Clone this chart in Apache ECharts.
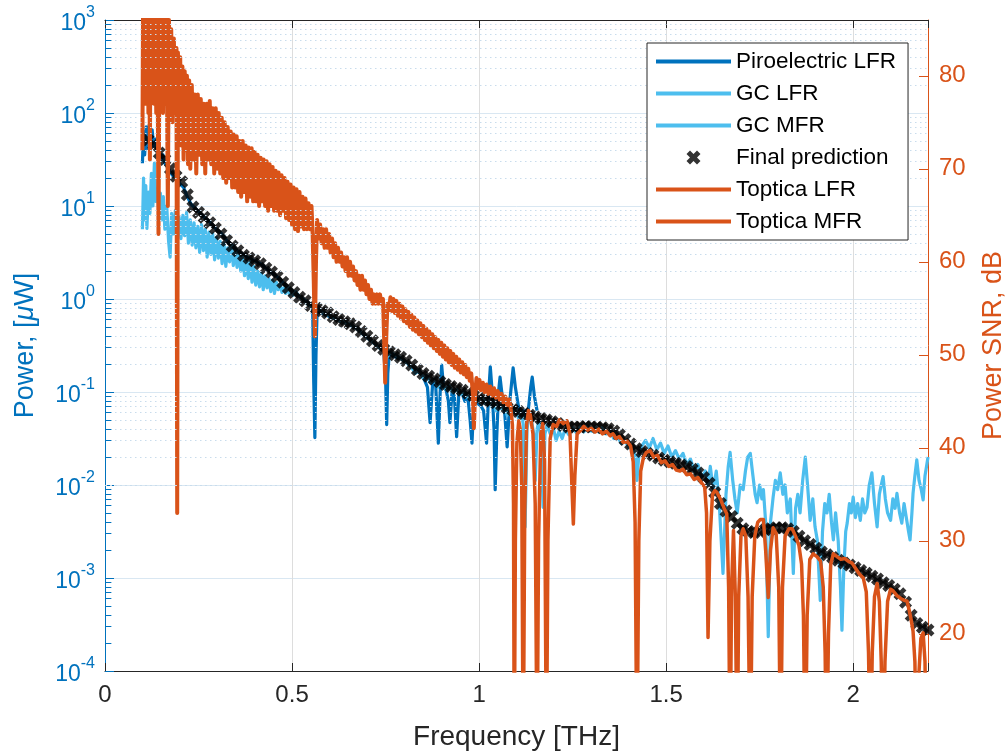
<!DOCTYPE html>
<html><head><meta charset="utf-8">
<script src="https://cdn.jsdelivr.net/npm/echarts@6/dist/echarts.min.js"></script>
<style>html,body{margin:0;padding:0;background:#fff}#c{width:1008px;height:751px}</style>
</head><body><div id="c"></div>
<script>
// ---------- tick labels ----------
const xTickValues = [0, 0.5, 1, 1.5, 2];
const leftDecades = [-4, -3, -2, -1, 0, 1, 2, 3];
const rightTicks = [20, 30, 40, 50, 60, 70, 80];
const seriesNames = ['Piroelectric LFR', 'GC LFR', 'GC MFR', 'Final prediction', 'Toptica LFR', 'Toptica MFR'];

// ---------- data: [frequency THz, log10(power / uW)] ----------
const pyroLFR_log = [[0.100,1.46],[0.103,1.80],[0.106,1.55],[0.110,1.85],[0.114,1.62],[0.118,1.87],[0.122,1.70],[0.126,1.82],[0.130,1.64],[0.135,1.72],[0.140,1.60],[0.145,1.62],[0.150,1.50],[0.155,1.55],[0.160,1.46],[0.165,1.48],[0.170,1.40],[0.175,1.42],[0.180,1.33],[0.190,1.30],[0.200,1.24],[0.210,1.20],[0.220,1.10],[0.230,1.02],[0.240,0.98],[0.250,0.94],[0.260,0.90],[0.270,0.86],[0.280,0.83],[0.290,0.78],[0.300,0.74],[0.310,0.71],[0.320,0.66],[0.330,0.60],[0.340,0.58],[0.350,0.53],[0.360,0.50],[0.370,0.48],[0.380,0.45],[0.390,0.43],[0.400,0.41],[0.410,0.39],[0.420,0.37],[0.430,0.33],[0.440,0.30],[0.450,0.27],[0.460,0.24],[0.470,0.20],[0.480,0.16],[0.490,0.12],[0.500,0.09],[0.510,0.06],[0.520,0.03],[0.530,0.00],[0.540,-0.03],[0.550,-0.06],[0.555,-0.10],[0.558,-0.90],[0.561,-1.49],[0.564,-0.60],[0.567,-0.12],[0.575,-0.14],[0.590,-0.17],[0.600,-0.19],[0.615,-0.21],[0.630,-0.24],[0.645,-0.26],[0.660,-0.29],[0.675,-0.32],[0.690,-0.38],[0.705,-0.43],[0.720,-0.48],[0.735,-0.53],[0.745,-0.56],[0.750,-0.85],[0.753,-1.35],[0.756,-0.80],[0.760,-0.58],[0.775,-0.62],[0.790,-0.64],[0.805,-0.68],[0.815,-0.72],[0.825,-0.75],[0.835,-0.78],[0.845,-0.80],[0.855,-0.88],[0.862,-0.95],[0.869,-1.33],[0.876,-0.90],[0.884,-0.92],[0.891,-1.55],[0.896,-1.00],[0.900,-0.71],[0.905,-0.95],[0.912,-0.98],[0.918,-1.10],[0.922,-1.33],[0.928,-0.98],[0.934,-1.05],[0.940,-1.48],[0.946,-1.00],[0.955,-1.02],[0.962,-1.10],[0.970,-1.05],[0.976,-1.30],[0.981,-1.55],[0.986,-1.10],[0.995,-1.12],[1.005,-1.15],[1.012,-1.20],[1.020,-1.55],[1.025,-1.05],[1.030,-0.73],[1.035,-1.00],[1.040,-1.40],[1.043,-2.05],[1.047,-1.50],[1.052,-1.00],[1.056,-0.84],[1.062,-1.05],[1.068,-1.20],[1.075,-1.59],[1.082,-1.10],[1.087,-0.90],[1.091,-0.74],[1.097,-0.95],[1.105,-1.15],[1.112,-1.25],[1.120,-1.20],[1.128,-1.33],[1.134,-1.10],[1.138,-0.95],[1.142,-0.84],[1.148,-1.05],[1.155,-1.20]];

const gcLFR_log = [[0.100,0.75],[0.103,1.30],[0.106,0.85],[0.109,1.22],[0.112,0.76],[0.116,1.15],[0.120,0.92],[0.124,1.35],[0.128,1.00],[0.132,1.46],[0.136,1.05],[0.140,1.18],[0.144,0.95],[0.148,1.14],[0.152,0.85],[0.156,1.10],[0.160,0.75],[0.165,1.00],[0.170,0.62],[0.174,0.45],[0.178,0.92],[0.183,0.70],[0.188,0.95],[0.193,0.72],[0.198,0.88],[0.203,0.65],[0.208,0.90],[0.213,0.68],[0.218,0.93],[0.223,0.60],[0.228,0.85],[0.233,0.58],[0.238,0.82],[0.243,0.55],[0.248,0.78],[0.253,0.50],[0.258,0.80],[0.263,0.52],[0.268,0.75],[0.273,0.45],[0.278,0.72],[0.283,0.48],[0.288,0.70],[0.293,0.42],[0.298,0.66],[0.303,0.44],[0.308,0.62],[0.313,0.38],[0.318,0.60],[0.323,0.35],[0.328,0.55],[0.333,0.40],[0.338,0.58],[0.343,0.36],[0.348,0.52],[0.353,0.34],[0.358,0.50],[0.363,0.30],[0.368,0.45],[0.373,0.25],[0.378,0.42],[0.383,0.22],[0.388,0.40],[0.393,0.18],[0.398,0.35],[0.403,0.15],[0.408,0.30],[0.413,0.13],[0.418,0.28],[0.423,0.10],[0.428,0.25],[0.433,0.12],[0.438,0.22],[0.443,0.08],[0.448,0.20],[0.453,0.06],[0.458,0.18],[0.463,0.10],[0.468,0.16],[0.473,0.07],[0.478,0.12],[0.483,0.06],[0.488,0.14],[0.493,0.05],[0.498,0.10],[0.503,0.04],[0.510,0.08],[0.520,0.02],[0.530,-0.01],[0.540,-0.05],[0.550,-0.08],[0.558,-0.12],[0.565,-0.10],[0.580,-0.14],[0.595,-0.17],[0.610,-0.20],[0.625,-0.23],[0.640,-0.25],[0.655,-0.27],[0.670,-0.31],[0.685,-0.36],[0.700,-0.41],[0.715,-0.46],[0.730,-0.51],[0.745,-0.55],[0.755,-0.62],[0.760,-0.57],[0.775,-0.60],[0.790,-0.63],[0.805,-0.68],[0.820,-0.74],[0.830,-0.80],[0.840,-0.76],[0.850,-0.85],[0.860,-0.82],[0.870,-0.90],[0.880,-0.86],[0.890,-0.95],[0.900,-0.90],[0.910,-0.97],[0.920,-0.93],[0.930,-1.00],[0.940,-0.97],[0.950,-1.03],[0.960,-0.99],[0.970,-1.06],[0.980,-1.04],[0.990,-1.12],[1.000,-1.08]];

const gcMFR_log = [[1.000,-1.08],[1.008,-1.05],[1.015,-1.12],[1.022,-1.08],[1.030,-1.15],[1.038,-1.10],[1.045,-1.20],[1.052,-1.12],[1.060,-1.18],[1.068,-1.14],[1.075,-1.25],[1.082,-1.18],[1.090,-1.22],[1.098,-1.16],[1.105,-1.28],[1.112,-1.20],[1.118,-1.35],[1.123,-2.45],[1.128,-1.40],[1.134,-1.25],[1.140,-1.30],[1.146,-1.45],[1.150,-1.95],[1.155,-1.40],[1.160,-1.30],[1.166,-1.50],[1.171,-2.24],[1.176,-1.45],[1.182,-1.35],[1.190,-1.45],[1.198,-1.38],[1.206,-1.52],[1.214,-1.42],[1.222,-1.50],[1.230,-1.40],[1.240,-1.46],[1.250,-1.38],[1.260,-1.44],[1.270,-1.37],[1.280,-1.43],[1.290,-1.36],[1.300,-1.42],[1.310,-1.37],[1.320,-1.43],[1.330,-1.38],[1.340,-1.45],[1.350,-1.42],[1.360,-1.50],[1.370,-1.48],[1.380,-1.55],[1.390,-1.52],[1.400,-1.60],[1.410,-1.58],[1.418,-1.70],[1.422,-1.95],[1.427,-1.68],[1.435,-1.58],[1.445,-1.52],[1.455,-1.60],[1.465,-1.50],[1.475,-1.62],[1.485,-1.55],[1.495,-1.66],[1.505,-1.58],[1.515,-1.70],[1.525,-1.63],[1.535,-1.72],[1.545,-1.66],[1.555,-1.78],[1.565,-1.72],[1.575,-1.85],[1.585,-1.78],[1.595,-1.92],[1.605,-1.85],[1.612,-2.00],[1.618,-1.80],[1.626,-2.05],[1.634,-1.85],[1.642,-2.20],[1.652,-2.95],[1.660,-2.10],[1.666,-1.80],[1.671,-1.65],[1.678,-1.95],[1.684,-2.15],[1.690,-2.30],[1.698,-2.00],[1.706,-2.05],[1.712,-1.85],[1.718,-1.70],[1.725,-1.66],[1.732,-1.90],[1.738,-2.10],[1.743,-2.19],[1.750,-2.00],[1.756,-2.15],[1.760,-2.05],[1.766,-2.40],[1.773,-3.63],[1.779,-2.40],[1.786,-2.13],[1.792,-1.95],[1.798,-2.05],[1.805,-1.87],[1.812,-2.10],[1.818,-2.00],[1.824,-2.30],[1.832,-2.15],[1.840,-2.95],[1.846,-2.25],[1.852,-2.10],[1.858,-2.30],[1.865,-1.95],[1.872,-1.70],[1.878,-2.00],[1.885,-2.38],[1.892,-2.15],[1.898,-2.45],[1.904,-2.59],[1.912,-3.24],[1.918,-2.50],[1.924,-2.20],[1.930,-2.30],[1.936,-2.10],[1.942,-2.40],[1.947,-2.59],[1.953,-2.30],[1.960,-2.60],[1.966,-3.10],[1.970,-3.56],[1.975,-2.90],[1.980,-2.50],[1.984,-2.41],[1.990,-2.20],[1.995,-2.30],[2.000,-2.13],[2.006,-2.35],[2.012,-2.20],[2.019,-2.38],[2.025,-2.15],[2.031,-2.30],[2.037,-2.24],[2.043,-2.00],[2.050,-1.87],[2.057,-2.20],[2.064,-2.45],[2.070,-2.10],[2.075,-2.00],[2.080,-1.91],[2.086,-2.15],[2.092,-2.30],[2.100,-2.38],[2.106,-2.15],[2.112,-2.25],[2.117,-2.09],[2.124,-2.30],[2.130,-2.41],[2.136,-2.20],[2.142,-2.35],[2.148,-2.50],[2.152,-2.59],[2.157,-2.30],[2.160,-2.09],[2.165,-1.90],[2.170,-1.73],[2.176,-1.95],[2.182,-2.05],[2.187,-2.16],[2.192,-1.90],[2.196,-1.80],[2.200,-1.70]];

const finalPred_log = [[0.115,1.71],[0.130,1.66],[0.145,1.57],[0.160,1.50],[0.175,1.40],[0.190,1.32],[0.205,1.26],[0.220,1.12],[0.235,0.99],[0.250,0.93],[0.265,0.88],[0.280,0.82],[0.295,0.76],[0.310,0.70],[0.325,0.63],[0.340,0.57],[0.355,0.52],[0.370,0.47],[0.385,0.44],[0.400,0.41],[0.415,0.38],[0.430,0.33],[0.445,0.29],[0.460,0.24],[0.475,0.18],[0.490,0.12],[0.505,0.07],[0.520,0.02],[0.535,-0.02],[0.550,-0.07],[0.565,-0.10],[0.580,-0.125],[0.595,-0.15],[0.610,-0.19],[0.625,-0.22],[0.640,-0.245],[0.655,-0.265],[0.670,-0.30],[0.685,-0.35],[0.700,-0.40],[0.715,-0.45],[0.730,-0.50],[0.745,-0.54],[0.760,-0.57],[0.775,-0.60],[0.790,-0.625],[0.805,-0.665],[0.820,-0.71],[0.835,-0.76],[0.850,-0.80],[0.865,-0.83],[0.880,-0.86],[0.895,-0.89],[0.910,-0.92],[0.925,-0.94],[0.940,-0.96],[0.955,-0.98],[0.970,-1.01],[0.985,-1.04],[1.000,-1.07],[1.015,-1.09],[1.030,-1.10],[1.045,-1.115],[1.060,-1.14],[1.075,-1.17],[1.090,-1.19],[1.105,-1.21],[1.120,-1.23],[1.135,-1.25],[1.150,-1.27],[1.165,-1.285],[1.180,-1.30],[1.195,-1.32],[1.210,-1.34],[1.225,-1.36],[1.240,-1.375],[1.255,-1.38],[1.270,-1.375],[1.285,-1.37],[1.300,-1.375],[1.315,-1.38],[1.330,-1.385],[1.345,-1.395],[1.360,-1.42],[1.375,-1.46],[1.390,-1.51],[1.405,-1.56],[1.420,-1.61],[1.435,-1.64],[1.450,-1.66],[1.465,-1.68],[1.480,-1.71],[1.495,-1.735],[1.510,-1.75],[1.525,-1.765],[1.540,-1.785],[1.555,-1.80],[1.570,-1.83],[1.585,-1.87],[1.600,-1.92],[1.615,-1.98],[1.630,-2.08],[1.645,-2.20],[1.660,-2.28],[1.675,-2.34],[1.690,-2.41],[1.705,-2.47],[1.720,-2.50],[1.735,-2.51],[1.750,-2.50],[1.765,-2.48],[1.780,-2.47],[1.795,-2.46],[1.810,-2.46],[1.825,-2.47],[1.840,-2.50],[1.855,-2.55],[1.870,-2.60],[1.885,-2.64],[1.900,-2.68],[1.915,-2.72],[1.930,-2.75],[1.945,-2.78],[1.960,-2.81],[1.975,-2.84],[1.990,-2.86],[2.005,-2.89],[2.020,-2.92],[2.035,-2.95],[2.050,-2.98],[2.065,-3.01],[2.080,-3.05],[2.095,-3.08],[2.110,-3.12],[2.125,-3.17],[2.140,-3.26],[2.155,-3.40],[2.170,-3.49],[2.185,-3.53],[2.200,-3.56]];

// ---------- data: [frequency THz, SNR dB] (right axis) ----------
const toptLFR_dB = [[0.100,72],[0.102,90],[0.104,78],[0.106,90],[0.108,77],[0.110,88],[0.112,79],[0.114,90],[0.116,76],[0.118,88],[0.120,71],[0.122,89],[0.125,78],[0.128,90],[0.131,77],[0.134,88],[0.137,76],[0.140,87],[0.143,63],[0.146,86],[0.149,77],[0.152,88],[0.155,76],[0.158,87],[0.161,77],[0.164,88],[0.168,66],[0.171,86],[0.174,76],[0.177,85],[0.180,75],[0.184,84],[0.188,76],[0.191,83],[0.193,33],[0.195,82.5],[0.198,74],[0.201,82],[0.204,72.5],[0.207,81],[0.210,71],[0.213,80.5],[0.216,72],[0.219,80],[0.222,70.5],[0.225,79.5],[0.228,70],[0.232,79],[0.236,71],[0.240,78],[0.244,69.5],[0.248,78],[0.252,71.5],[0.256,77.5],[0.260,70.5],[0.264,77],[0.268,69.5],[0.272,77],[0.276,71],[0.280,77.3],[0.284,70.5],[0.288,76.5],[0.292,69.5],[0.296,76.5],[0.300,70],[0.304,76],[0.308,69.5],[0.312,75.5],[0.316,69],[0.320,75],[0.324,68.5],[0.328,74.5],[0.332,69],[0.336,74],[0.340,68],[0.344,73.7],[0.348,68],[0.352,73.5],[0.356,67.5],[0.360,73],[0.364,67],[0.368,73],[0.372,67.5],[0.376,72.5],[0.380,66.5],[0.384,72.3],[0.388,67],[0.392,72.2],[0.396,66.5],[0.400,71.8],[0.404,66.5],[0.408,71.5],[0.412,66],[0.416,71.2],[0.420,66.5],[0.424,71],[0.428,66],[0.432,70.8],[0.436,65.5],[0.440,70.5],[0.444,66],[0.448,70.2],[0.452,65.5],[0.456,69.8],[0.460,65.5],[0.464,69.6],[0.468,65],[0.472,69.3],[0.476,65.5],[0.480,69],[0.484,64.7],[0.488,68.6],[0.492,64.5],[0.496,68.3],[0.500,64],[0.504,68],[0.508,63.5],[0.512,67.8],[0.516,63.3],[0.520,67.5],[0.524,63.8],[0.528,67],[0.532,63.5],[0.536,66.8],[0.540,63.5],[0.544,66.3],[0.548,63.5],[0.552,66],[0.555,63],[0.558,58],[0.561,52],[0.564,60],[0.567,64.5],[0.571,62.5],[0.575,64],[0.579,62],[0.583,63.5],[0.587,61.5],[0.591,63.5],[0.595,61.5],[0.599,63],[0.603,61],[0.607,62.5],[0.611,60.5],[0.615,62],[0.619,60],[0.623,61.5],[0.627,60],[0.631,61],[0.635,59.5],[0.639,60.5],[0.643,59],[0.647,60.5],[0.651,58.5],[0.655,60],[0.659,58.5],[0.663,59.5],[0.667,58],[0.671,59],[0.675,57.5],[0.679,58.5],[0.683,57],[0.687,58.5],[0.691,57],[0.695,58],[0.699,56.5],[0.703,57.5],[0.707,56],[0.711,57],[0.715,55.5],[0.719,56.5],[0.723,55.5],[0.727,56.5],[0.731,55.5],[0.735,56.5],[0.739,55.5],[0.743,56],[0.746,52],[0.749,47],[0.752,52],[0.755,55.5],[0.759,54.8],[0.763,56.2],[0.767,54.7],[0.771,56.0],[0.775,54.5],[0.779,55.8],[0.783,54.2],[0.787,55.5],[0.791,53.9],[0.795,55.2],[0.799,53.6],[0.803,54.9],[0.807,53.4],[0.811,54.6],[0.815,53.0],[0.819,54.3],[0.823,52.7],[0.827,54.0],[0.831,52.5],[0.835,53.7],[0.839,52.2],[0.843,53.4],[0.847,51.9],[0.851,53.1],[0.855,51.6],[0.859,52.8],[0.863,51.3],[0.867,52.5],[0.871,51.0],[0.875,52.2],[0.879,50.7],[0.883,51.9],[0.887,50.4],[0.891,51.6],[0.895,50.1],[0.899,51.3],[0.903,49.8],[0.907,51.0],[0.911,49.5],[0.915,50.7],[0.919,49.2],[0.923,50.4],[0.927,48.9],[0.931,50.1],[0.935,48.6],[0.939,49.8],[0.943,48.4],[0.947,49.5],[0.951,48.1],[0.955,49.2],[0.959,47.9],[0.963,48.9],[0.967,47.6],[0.971,48.5],[0.975,47.2],[0.979,48.0],[0.983,46.0],[0.986,42.1],[0.989,45.5],[0.993,47.5],[0.997,46.4],[1.001,47.3],[1.005,46.2],[1.010,47.0],[1.015,46.0],[1.020,46.8],[1.025,45.8],[1.030,46.6],[1.035,45.6],[1.040,46.4],[1.045,45.4],[1.050,46.1],[1.055,45.2],[1.060,45.8],[1.065,44.9],[1.070,45.5],[1.075,44.6],[1.080,45.2],[1.085,44.2]];

const toptMFR_dB = [[1.085,44.2],[1.089,42.5],[1.092,34],[1.094,5],[1.097,30],[1.101,40.5],[1.106,42.9],[1.110,42.0],[1.114,36],[1.118,5],[1.122,33],[1.127,42.5],[1.132,44.0],[1.137,43.5],[1.144,41.5],[1.150,34],[1.155,5],[1.159,30],[1.165,41.5],[1.170,42.6],[1.175,38.6],[1.180,5],[1.184,30],[1.190,41.0],[1.198,42.5],[1.207,42.3],[1.215,43.0],[1.225,42.6],[1.235,42.9],[1.243,41.5],[1.248,36],[1.252,31.8],[1.256,37],[1.262,41.5],[1.270,41.8],[1.280,42.3],[1.290,41.9],[1.300,42.1],[1.310,41.7],[1.320,42.0],[1.330,41.5],[1.340,41.8],[1.350,41.3],[1.358,41.5],[1.366,41.0],[1.375,41.2],[1.385,40.6],[1.396,40.7],[1.405,40.2],[1.412,38.5],[1.417,32],[1.422,5],[1.427,30],[1.432,37.5],[1.439,38.9],[1.447,39.5],[1.457,39.7],[1.467,39.0],[1.477,39.2],[1.487,38.4],[1.497,38.6],[1.507,38.0],[1.517,38.2],[1.527,37.6],[1.537,37.5],[1.545,37.7],[1.555,37.1],[1.565,37.2],[1.575,36.6],[1.585,36.8],[1.595,36.2],[1.603,35.8],[1.608,33],[1.612,19.6],[1.617,30],[1.624,35.0],[1.630,35.4],[1.636,35.2],[1.645,34.5],[1.655,33.5],[1.662,32.9],[1.667,25],[1.671,5],[1.675,25],[1.680,31.1],[1.685,24],[1.690,5],[1.694,24],[1.700,30.5],[1.706,31.3],[1.713,30.5],[1.719,24],[1.725,5],[1.730,24],[1.737,30.5],[1.745,32.0],[1.752,32.3],[1.760,32.3],[1.766,29],[1.773,23.9],[1.779,29],[1.786,31.4],[1.794,30.8],[1.801,25],[1.806,5],[1.811,25],[1.818,30.5],[1.828,31.3],[1.837,31.3],[1.846,30.5],[1.855,29.5],[1.862,27.5],[1.867,22],[1.872,5],[1.877,22],[1.884,28.0],[1.893,28.6],[1.903,28.3],[1.913,27.8],[1.920,25],[1.925,18],[1.929,5],[1.934,20],[1.940,27.5],[1.947,28.6],[1.957,28.3],[1.967,28.0],[1.977,28.1],[1.987,27.8],[1.997,27.6],[2.007,27.0],[2.017,26.4],[2.027,26.0],[2.035,24.5],[2.041,18],[2.046,5],[2.051,18],[2.057,24],[2.064,25.4],[2.070,23.5],[2.075,17],[2.080,5],[2.085,17],[2.092,23.5],[2.100,24.8],[2.107,24.6],[2.117,24.1],[2.127,23.8],[2.137,23.6],[2.144,23.5],[2.150,22.5],[2.155,21.5],[2.160,20.3],[2.165,17],[2.170,5],[2.176,16],[2.181,19.5],[2.187,20.1],[2.192,17],[2.196,5],[2.200,8]];

// ---------- build ----------
const toPower = arr => arr.map(p => [p[0], Math.pow(10, p[1])]);
const minorVals = [];
for (let k = -4; k <= 2; k++) for (let m = 2; m <= 9; m++) minorVals.push(m * Math.pow(10, k));

const FONT = '"Liberation Sans", Arial, Helvetica, sans-serif';
const BLUE = '#0072BD', LBLUE = '#4DBEEE', ORANGE = '#D95319', DARK = '#262626';
const xPath = 'path://M2.5,0 L5,2.5 L7.5,0 L10,2.5 L7.5,5 L10,7.5 L7.5,10 L5,7.5 L2.5,10 L0,7.5 L2.5,5 L0,2.5 Z';
const barPath = 'path://M0,0 L75,0 L75,4 L0,4 Z';

const lineSeries = (name, data, color, yIdx, z, w) => ({
  name, type: 'line', data, xAxisIndex: 0, yAxisIndex: yIdx,
  symbol: 'none', showSymbol: false, clip: true, z,
  lineStyle: { color, width: w, join: 'round' }, itemStyle: { color },
  emphasis: { disabled: true }
});

const option = {
  animation: false,
  backgroundColor: '#ffffff',
  textStyle: { fontFamily: FONT },
  grid: { left: 105, right: 80, top: 20, bottom: 80, containLabel: false, outerBoundsMode: 'none' },
  legend: {
    orient: 'vertical', left: 647, top: 43,
    padding: [7, 12, 7, 9], itemGap: 9, itemWidth: 75, itemHeight: 14,
    backgroundColor: '#ffffff', borderColor: DARK, borderWidth: 1, borderRadius: 0,
    textStyle: { fontFamily: FONT, fontSize: 22.5, lineHeight: 22, color: '#000' },
    selectedMode: false, z: 20,
    data: [
      { name: seriesNames[0], icon: barPath },
      { name: seriesNames[1], icon: barPath },
      { name: seriesNames[2], icon: barPath },
      { name: seriesNames[3], icon: xPath },
      { name: seriesNames[4], icon: barPath },
      { name: seriesNames[5], icon: barPath }
    ]
  },
  xAxis: [
    {
      type: 'value', position: 'bottom', min: 0, max: 2.2, interval: 0.5,
      name: 'Frequency [THz]', nameLocation: 'middle', nameGap: 52,
      nameTextStyle: { fontFamily: FONT, fontSize: 28, color: DARK },
      axisLine: { show: true, onZero: false, lineStyle: { color: DARK, width: 1 } },
      axisTick: { show: true, inside: true, length: 8, lineStyle: { color: DARK } },
      axisLabel: { fontFamily: FONT, fontSize: 24, color: DARK, margin: 12,
        formatter: v => (xTickValues.indexOf(v) >= 0 ? String(v) : '') },
      splitLine: { show: true, lineStyle: { color: '#dddddd', width: 1 } }
    },
    {
      type: 'value', position: 'top', min: 0, max: 2.2, interval: 0.5,
      axisLine: { show: true, onZero: false, lineStyle: { color: DARK, width: 1 } },
      axisTick: { show: true, inside: true, length: 8, lineStyle: { color: DARK } },
      axisLabel: { show: false }, splitLine: { show: false }
    }
  ],
  yAxis: [
    {
      type: 'log', logBase: 10, min: 1e-4, max: 1e3, splitNumber: 7, position: 'left',
      name: 'Power, [{i|μ}W]', nameLocation: 'middle', nameGap: 66, nameRotate: 90,
      nameTextStyle: { fontFamily: FONT, fontSize: 27, color: BLUE,
        rich: { i: { fontFamily: FONT, fontSize: 27, fontStyle: 'italic', color: BLUE } } },
      axisLine: { show: true, onZero: false, lineStyle: { color: BLUE, width: 1 } },
      axisTick: { show: true, inside: true, length: 9, lineStyle: { color: BLUE } },
      axisLabel: {
        color: BLUE, margin: 10,
        formatter: v => {
          const e = Math.round(Math.log10(v));
          return leftDecades.indexOf(e) >= 0 ? '{b|10}{s|' + e + '}' : '';
        },
        rich: {
          b: { fontFamily: FONT, fontSize: 23, color: BLUE, verticalAlign: 'bottom', lineHeight: 30 },
          s: { fontFamily: FONT, fontSize: 16, color: BLUE, verticalAlign: 'top', lineHeight: 30 }
        }
      },
      splitLine: { show: true, lineStyle: { color: '#d9e7f2', width: 1 } }
    },
    {
      type: 'value', min: 16, max: 86, position: 'right',
      name: 'Power SNR, dB', nameLocation: 'middle', nameGap: 52, nameRotate: 90,
      nameTextStyle: { fontFamily: FONT, fontSize: 27, color: ORANGE },
      axisLine: { show: true, onZero: false, lineStyle: { color: ORANGE, width: 1 } },
      axisTick: { show: true, inside: true, length: 9, lineStyle: { color: ORANGE }, customValues: rightTicks },
      axisLabel: { fontFamily: FONT, fontSize: 24, color: ORANGE, margin: 11, customValues: rightTicks },
      splitLine: { show: false }
    }
  ],
  series: [
    {
      name: 'minorGrid', type: 'line', xAxisIndex: 0, yAxisIndex: 0, z: 0,
      data: [[0, 1]], symbol: 'none', lineStyle: { opacity: 0 }, silent: true,
      markLine: {
        silent: true, symbol: ['none', 'none'], label: { show: false }, animation: false,
        lineStyle: { color: '#c9dcec', width: 1, type: [1.5, 3.5] },
        emphasis: { disabled: true },
        data: minorVals.map(v => ({ yAxis: v }))
      }
    },
    lineSeries(seriesNames[0], toPower(pyroLFR_log), BLUE, 0, 2, 3.2),
    lineSeries(seriesNames[1], toPower(gcLFR_log), LBLUE, 0, 2, 3.2),
    lineSeries(seriesNames[2], toPower(gcMFR_log), LBLUE, 0, 2, 3.2),
    {
      name: seriesNames[3], type: 'scatter', xAxisIndex: 0, yAxisIndex: 0, z: 3,
      data: toPower(finalPred_log), symbol: xPath, symbolSize: 13,
      itemStyle: { color: '#000000' }, emphasis: { disabled: true }
    },
    lineSeries(seriesNames[4], toptLFR_dB, ORANGE, 1, 4, 4),
    lineSeries(seriesNames[5], toptMFR_dB, ORANGE, 1, 4, 3.5),
    {
      name: 'minorTicks', type: 'line', xAxisIndex: 0, yAxisIndex: 0, z: 6,
      data: [[0, 1]], symbol: 'none', lineStyle: { opacity: 0 }, silent: true,
      markLine: {
        silent: true, symbol: ['none', 'none'], label: { show: false }, animation: false,
        lineStyle: { color: BLUE, width: 1, type: 'solid' },
        emphasis: { disabled: true },
        data: minorVals.map(v => [{ coord: [0, v] }, { coord: [0.017, v] }])
      }
    }
  ]
};

const chart = echarts.init(document.getElementById('c'), null, { renderer: 'canvas' });
chart.setOption(option);
</script></body></html>
